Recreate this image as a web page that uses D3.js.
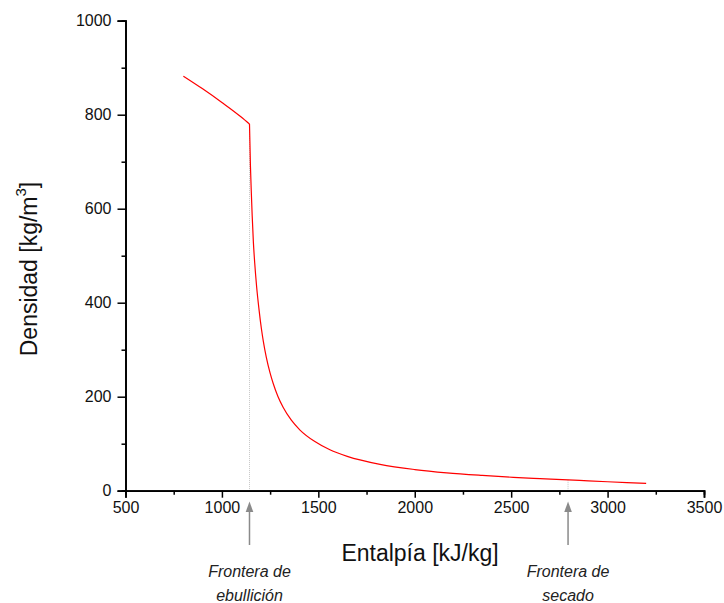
<!DOCTYPE html>
<html>
<head>
<meta charset="utf-8">
<script src="https://cdn.jsdelivr.net/npm/d3@7"></script>
<style>
  body { margin: 0; background: #fff; }
  text { font-family: "Liberation Sans", Arial, sans-serif; }
</style>
</head>
<body>
<div id="chart"></div>
<script>
// Values
// liquid branch (up to the boiling boundary)
var liquidH   = [800, 900, 1000, 1100, 1143];
var liquidRho = [882, 855, 826, 795, 780];
// two-phase and vapour branch (from the boiling boundary on)
var mixH   = [1143, 1148, 1152, 1157, 1163, 1170, 1180, 1192, 1205, 1215, 1230, 1250, 1266, 1290, 1318, 1360, 1405, 1480, 1560, 1650, 1820, 2000, 2166, 2350, 2511, 2650, 2795, 2900, 3000, 3100, 3200];
var mixRho = [780, 690, 640, 585, 530, 485, 434, 387, 344, 317, 284, 250, 228, 201, 177, 150, 129, 105, 87, 73, 56, 45, 38, 32.5, 28.5, 25.8, 23.2, 21, 19, 17.2, 15.5];
var xTicks = [500, 1000, 1500, 2000, 2500, 3000, 3500];
var yTicks = [0, 200, 400, 600, 800, 1000];
var boundaries = [
  { h: 1143, rho: 780, lines: ['Frontera de', 'ebullición'] },
  { h: 2795, rho: 23.2, lines: ['Frontera de', 'secado'] }
];

var width = 724, height = 603;

var svg = d3.select('#chart')
  .append('svg')
  .attr('width', width)
  .attr('height', height);

var x = d3.scaleLinear().domain([500, 3500]).range([125.5, 704]);
var y = d3.scaleLinear().domain([0, 1000]).range([490.7, 20.7]);

// dotted guide lines at the phase boundaries
svg.selectAll('.guide')
  .data(boundaries)
  .enter().append('line')
  .attr('class', 'guide')
  .attr('x1', function(d) { return x(d.h); })
  .attr('x2', function(d) { return x(d.h); })
  .attr('y1', function(d) { return y(d.rho); })
  .attr('y2', y(0))
  .attr('stroke', '#c4c4c4')
  .attr('stroke-width', 1)
  .attr('stroke-dasharray', '1,1');

// curve, drawn as two branches so the kink stays sharp
var line = d3.line()
  .x(function(d) { return x(d[0]); })
  .y(function(d) { return y(d[1]); })
  .curve(d3.curveMonotoneX);

[[liquidH, liquidRho], [mixH, mixRho]].forEach(function(b) {
  svg.append('path')
    .datum(d3.zip(b[0], b[1]))
    .attr('d', line)
    .attr('fill', 'none')
    .attr('stroke', '#ff0000')
    .attr('stroke-width', 1.2);
});

// axes
var xAxis = d3.axisBottom(x).tickValues(xTicks).tickSize(7).tickPadding(4).tickFormat(d3.format('d'));
var xMinor = d3.axisBottom(x).tickValues(d3.range(750, 3500, 500)).tickSize(4).tickFormat('');
var yAxis = d3.axisLeft(y).tickValues(yTicks).tickSize(8).tickPadding(6).tickFormat(d3.format('d'));
var yMinor = d3.axisLeft(y).tickValues(d3.range(100, 1000, 200)).tickSize(4).tickFormat('');

function styleAxis(g) {
  g.select('.domain').attr('stroke', '#000').attr('stroke-width', 1.7);
  g.selectAll('.tick line').attr('stroke', '#000').attr('stroke-width', 1.5);
  g.selectAll('.tick text').attr('fill', '#111').style('font-size', '16px')
    .style('font-family', '"Liberation Sans", Arial, sans-serif');
}

svg.append('g').attr('transform', 'translate(0,' + y(0) + ')').call(xMinor).call(styleAxis);
svg.append('g').attr('transform', 'translate(0,' + y(0) + ')').call(xAxis).call(styleAxis);
svg.append('g').attr('transform', 'translate(' + x(500) + ',0)').call(yMinor).call(styleAxis);
svg.append('g').attr('transform', 'translate(' + x(500) + ',0)').call(yAxis).call(styleAxis);

// axis titles
svg.append('text')
  .attr('x', 420)
  .attr('y', 561)
  .attr('text-anchor', 'middle')
  .style('font-size', '23px')
  .attr('fill', '#111')
  .text('Entalpía [kJ/kg]');

var yTitle = svg.append('text')
  .attr('transform', 'translate(37,269) rotate(-90)')
  .attr('text-anchor', 'middle')
  .style('font-size', '23px')
  .attr('fill', '#111');
yTitle.append('tspan').text('Densidad [kg/m');
yTitle.append('tspan').attr('dy', -11).style('font-size', '15px').text('3');
yTitle.append('tspan').attr('dy', 11).text(']');

// arrows and notes under the axis
var notes = svg.selectAll('.note')
  .data(boundaries)
  .enter().append('g')
  .attr('class', 'note')
  .attr('transform', function(d) { return 'translate(' + x(d.h) + ',0)'; });

notes.append('line')
  .attr('x1', 0).attr('x2', 0)
  .attr('y1', 545).attr('y2', 510)
  .attr('stroke', '#8a8a8a')
  .attr('stroke-width', 1.5);

notes.append('path')
  .attr('d', 'M0,501.5L-3.8,512L3.8,512Z')
  .attr('fill', '#8a8a8a');

notes.each(function(d) {
  var t = d3.select(this).append('text')
    .attr('text-anchor', 'middle')
    .style('font-size', '16px')
    .style('font-style', 'italic')
    .attr('fill', '#222');
  d.lines.forEach(function(s, i) {
    t.append('tspan').attr('x', 0).attr('y', 577 + i * 24).text(s);
  });
});
</script>
</body>
</html>
